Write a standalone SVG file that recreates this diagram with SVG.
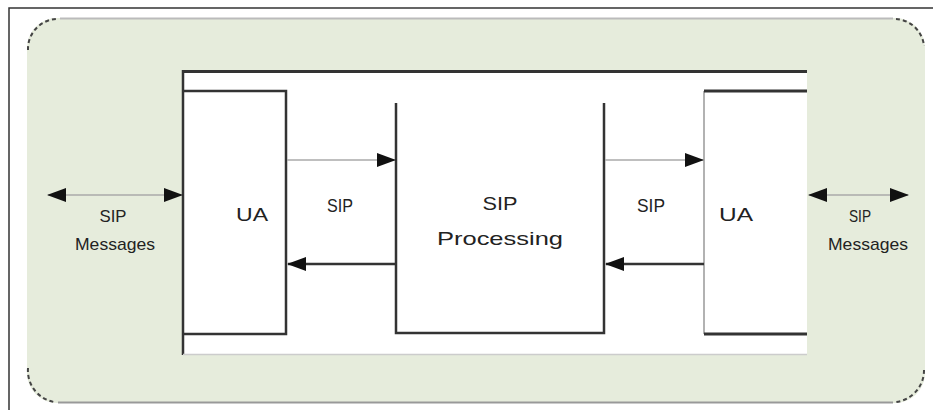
<svg xmlns="http://www.w3.org/2000/svg" width="933" height="410" viewBox="0 0 933 410">
<style>
  text { font-family: "Liberation Sans", Arial, sans-serif; fill: #222; text-anchor: middle; }
  .lbl { font-size: 19px; }
  .small { font-size: 17px; }
  .dark { stroke: #333; stroke-width: 2.5; fill: none; }
  .thin { stroke: #aaa; stroke-width: 1.5; fill: none; }
  .corner { stroke: #444; stroke-width: 2; fill: none; stroke-dasharray: 4 3; }
</style>
<defs>
  <marker id="ah" markerUnits="userSpaceOnUse" markerWidth="19" markerHeight="14" refX="18" refY="7" orient="auto-start-reverse">
    <path d="M0,0 L19,7 L0,14 Z" fill="#111"/>
  </marker>
</defs>
<rect width="933" height="410" fill="#ffffff"/>
<!-- outer frame -->
<path d="M9,420 L9,8 L933,8" fill="none" stroke="#333" stroke-width="1.5"/>
<!-- background rounded panel -->
<g id="panel">
  <rect x="27" y="18" width="898" height="385" rx="30" ry="30" fill="#e6ecdc"/>
  <line x1="60" y1="18.5" x2="893" y2="18.5" stroke="#bbb" stroke-width="2"/>
  <line x1="58" y1="402.5" x2="893" y2="402.5" stroke="#999" stroke-width="2"/>
  <path class="corner" d="M28,50 A30,30 0 0 1 56,19"/>
  <path class="corner" d="M896,19 A30,30 0 0 1 924,46"/>
  <path class="corner" d="M28,368 A32,32 0 0 0 54,402"/>
  <path class="corner" d="M924,370 A32,32 0 0 1 896,402"/>
</g>
<!-- inner white container -->
<g id="container">
  <rect x="183" y="71" width="624" height="284" fill="#ffffff"/>
  <line x1="183" y1="71.5" x2="807" y2="71.5" stroke="#333" stroke-width="3"/>
  <line x1="183" y1="70" x2="183" y2="355" stroke="#333" stroke-width="2.5"/>
  <line x1="183" y1="354.5" x2="807" y2="354.5" stroke="#ccc" stroke-width="1.5"/>
</g>
<g id="ua-left">
  <path class="dark" d="M183,91 L286,91 L286,334 L183,334"/>
  <text class="lbl" x="252" y="221" textLength="32" lengthAdjust="spacingAndGlyphs">UA</text>
</g>
<g id="sip-processing">
  <path class="dark" d="M396,103 L396,333 L604,333 L604,103"/>
  <text class="lbl" x="500" y="210" textLength="35" lengthAdjust="spacingAndGlyphs">SIP</text>
  <text class="lbl" x="500" y="245" textLength="126" lengthAdjust="spacingAndGlyphs">Processing</text>
</g>
<g id="ua-right">
  <line x1="704" y1="91" x2="704" y2="334" stroke="#999" stroke-width="1.5"/>
  <line x1="704" y1="91" x2="807" y2="91" stroke="#333" stroke-width="3"/>
  <line x1="704" y1="334" x2="807" y2="334" stroke="#333" stroke-width="3"/>
  <text class="lbl" x="736" y="221" textLength="34" lengthAdjust="spacingAndGlyphs">UA</text>
</g>
<g id="connectors">
  <line class="thin" x1="48" y1="195" x2="182" y2="195" marker-start="url(#ah)" marker-end="url(#ah)"/>
  <line class="thin" x1="287" y1="160" x2="395" y2="160" marker-end="url(#ah)"/>
  <line class="dark" x1="395" y1="264" x2="288" y2="264" marker-end="url(#ah)"/>
  <line class="thin" x1="605" y1="160" x2="703" y2="160" marker-end="url(#ah)"/>
  <line class="dark" x1="704" y1="264" x2="606" y2="264" marker-end="url(#ah)"/>
  <line class="thin" x1="809" y1="195" x2="908" y2="195" marker-start="url(#ah)" marker-end="url(#ah)"/>
</g>
<g id="labels">
  <text class="small" x="113" y="222" textLength="27" lengthAdjust="spacingAndGlyphs">SIP</text>
  <text class="small" x="115" y="250" textLength="80" lengthAdjust="spacingAndGlyphs">Messages</text>
  <text class="lbl" x="340" y="212" textLength="26" lengthAdjust="spacingAndGlyphs">SIP</text>
  <text class="lbl" x="651" y="212" textLength="28" lengthAdjust="spacingAndGlyphs">SIP</text>
  <text class="small" x="860" y="222" textLength="22" lengthAdjust="spacingAndGlyphs">SIP</text>
  <text class="small" x="868" y="250" textLength="80" lengthAdjust="spacingAndGlyphs">Messages</text>
</g>
</svg>
